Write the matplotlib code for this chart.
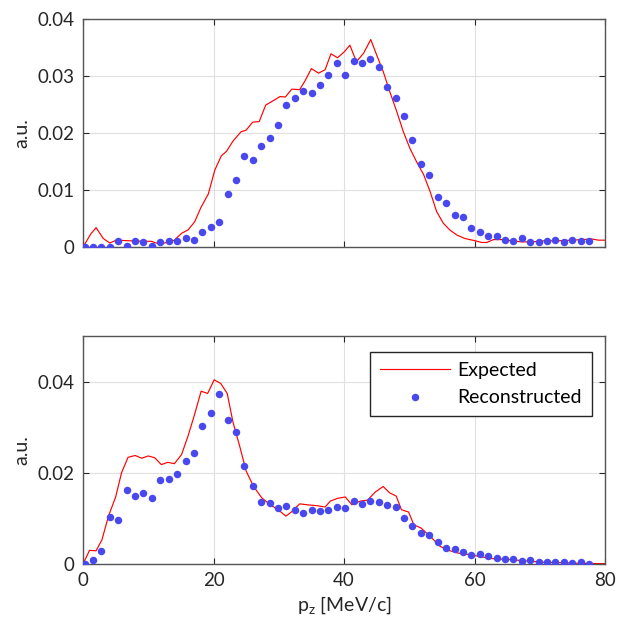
import numpy as np
import matplotlib
matplotlib.use("Agg")
import matplotlib.pyplot as plt

# ---------------------------------------------------------
# Data
# ---------------------------------------------------------

# reconstructed points sit on a regular grid of 61 bins
rec_x = np.linspace(0.25, 77.55, 61)

rec_top = [0.0000, 0.0000, 0.0000, 0.0000, 0.0011, 0.0001, 0.0011, 0.0009, 0.0002, 0.0009,
           0.0011, 0.0011, 0.0016, 0.0013, 0.0026, 0.0035, 0.0044, 0.0093, 0.0118, 0.0160,
           0.0152, 0.0178, 0.0192, 0.0214, 0.0249, 0.0262, 0.0274, 0.0271, 0.0285, 0.0301,
           0.0322, 0.0301, 0.0327, 0.0322, 0.0330, 0.0316, 0.0280, 0.0261, 0.0229, 0.0187,
           0.0146, 0.0126, 0.0087, 0.0077, 0.0057, 0.0052, 0.0033, 0.0026, 0.0020, 0.0020,
           0.0013, 0.0011, 0.0015, 0.0009, 0.0009, 0.0011, 0.0012, 0.0009, 0.0012, 0.0011,
           0.0011]

rec_bot = [0.0000, 0.0009, 0.0029, 0.0103, 0.0097, 0.0162, 0.0149, 0.0156, 0.0144, 0.0185,
           0.0186, 0.0198, 0.0226, 0.0243, 0.0302, 0.0331, 0.0372, 0.0316, 0.0289, 0.0216,
           0.0171, 0.0137, 0.0134, 0.0122, 0.0127, 0.0119, 0.0111, 0.0119, 0.0117, 0.0119,
           0.0125, 0.0122, 0.0138, 0.0132, 0.0138, 0.0135, 0.0130, 0.0126, 0.0100, 0.0083,
           0.0068, 0.0064, 0.0049, 0.0036, 0.0033, 0.0026, 0.0019, 0.0023, 0.0018, 0.0014,
           0.0010, 0.0011, 0.0007, 0.0008, 0.0005, 0.0005, 0.0004, 0.0004, 0.0003, 0.0004,
           0.0001]

exp_x_top = [0, 1.2, 2.0, 3.1, 4.1, 5.1, 7.0, 9.5, 10.5, 11.2, 12.5, 14.0, 15.1, 16.1, 17.1,
             18.1, 19.2, 20.2, 21.2, 22.0, 23.0, 24.2, 25.0, 26.0, 27.0, 28.0, 29.2, 30.2,
             31.0, 32.0, 33.2, 34.0, 35.0, 36.1, 37.1, 38.0, 39.0, 40.0, 40.9, 41.9, 43.0,
             44.1, 45.0, 46.0, 47.0, 48.1, 49.1, 50.1, 51.1, 52.2, 53.2, 54.2, 55.2, 56.2,
             57.3, 58.5, 60.1, 61.1, 61.9, 62.9, 64.2, 65.7, 67.2, 68.7, 70.8, 72.9, 74.9,
             76.4, 78.0, 79.0, 80.0]
exp_top = [0, .0023, .0034, .0015, .0007, .0012, .0011, .0010, .0010, .0007, .0007, .0012,
           .0024, .0030, .0044, .0070, .0093, .0135, .0160, .0168, .0186, .0202, .0205,
           .0219, .0220, .0249, .0257, .0264, .0263, .0277, .0276, .0291, .0313, .0305,
           .0311, .0339, .0332, .0342, .0354, .0325, .0340, .0364, .0337, .0308, .0273,
           .0237, .0202, .0173, .0150, .0127, .0097, .0062, .0042, .0030, .0021, .0015,
           .0011, .0008, .0008, .0013, .0013, .0011, .0009, .0009, .0011, .0011, .0012,
           .0013, .0014, .0012, .0012]

exp_x_bot = [0, 1.0, 2.0, 2.9, 3.9, 5.0, 5.9, 6.9, 8.0, 9.0, 10.0, 11.0, 12.0, 13.0, 14.0,
             15.1, 16.1, 17.1, 18.1, 19.1, 20.1, 21.1, 22.1, 23.0, 24.0, 25.0, 26.1, 27.4,
             28.7, 29.9, 31.1, 32.1, 33.2, 34.3, 35.8, 37.1, 37.9, 39.0, 40.2, 41.2, 42.5,
             43.6, 44.8, 46.0, 47.0, 48.0, 48.8, 49.9, 50.7, 51.8, 53.2, 54.7, 56.0, 57.5,
             59.0, 60.6, 62.6, 65.2, 67.7, 70.3, 72.9, 75.4, 77.9, 80.0]
exp_bot = [0, .0030, .0029, .0053, .0105, .0147, .0200, .0234, .0238, .0232, .0237, .0233,
           .0218, .0223, .0220, .0240, .0281, .0328, .0379, .0374, .0404, .0396, .0374,
           .0310, .0259, .0204, .0171, .0145, .0130, .0119, .0105, .0116, .0132, .0130,
           .0128, .0125, .0138, .0144, .0147, .0130, .0138, .0140, .0158, .0170, .0156,
           .0149, .0119, .0114, .0086, .0079, .0061, .0039, .0030, .0024, .0021, .0017,
           .0012, .0010, .0007, .0004, .0003, .0002, .0001, .0001]

x_ticks = [0, 20, 40, 60, 80]
y_ticks_top = [0, 0.01, 0.02, 0.03, 0.04]
y_labels_top = ["0", "0.01", "0.02", "0.03", "0.04"]
y_ticks_bot = [0, 0.02, 0.04]
y_labels_bot = ["0", "0.02", "0.04"]

# ---------------------------------------------------------
# Plot
# ---------------------------------------------------------
plt.rcParams['font.family'] = ['Lato', 'DejaVu Sans']
plt.rcParams['font.size'] = 13

RED = '#ff0000'
BLUE = '#4848ee'
TXT = '#262626'

fig = plt.figure(figsize=(6.28, 6.29), dpi=100)
ax_top = fig.add_axes([0.1322, 0.6073, 0.8312, 0.3625])
ax_bot = fig.add_axes([0.1322, 0.1033, 0.8312, 0.3625])


def style_axes(ax, yticks, ylabels, ymax, show_x):
    ax.set_xlim(0, 80)
    ax.set_ylim(0, ymax)
    ax.set_xticks(x_ticks)
    ax.set_yticks(yticks)
    ax.set_yticklabels(ylabels)
    if not show_x:
        ax.set_xticklabels([])
    ax.grid(True, color='#e0e0e0', linewidth=0.8)
    ax.set_axisbelow(True)
    ax.tick_params(direction='in', top=True, right=True, length=4,
                   color=TXT, labelcolor=TXT, labelsize=13.5, pad=6)
    for sp in ax.spines.values():
        sp.set_color('#555555')
        sp.set_linewidth(1.0)
    ax.set_ylabel('a.u.', fontsize=14, color=TXT, labelpad=5)


ax_top.plot(exp_x_top, exp_top, color=RED, lw=0.85, zorder=2)
ax_top.plot(rec_x, rec_top, 'o', color=BLUE, ms=5.4, mec='none', zorder=3)
style_axes(ax_top, y_ticks_top, y_labels_top, 0.04, False)

ax_bot.plot(exp_x_bot, exp_bot, color=RED, lw=0.85, zorder=2, label='Expected')
ax_bot.plot(rec_x, rec_bot, 'o', color=BLUE, ms=5.4, mec='none', zorder=3, label='Reconstructed')
style_axes(ax_bot, y_ticks_bot, y_labels_bot, 0.05, True)
ax_bot.set_xlabel(r'$\mathregular{p_z}$ [MeV/c]', fontsize=14, color=TXT, labelpad=4)

leg = ax_bot.legend(loc='upper right', bbox_to_anchor=(0.975, 0.93), fontsize=14,
                    frameon=True, fancybox=False, framealpha=1, edgecolor=TXT,
                    handlelength=3.6, borderpad=0.5, labelspacing=0.55, handletextpad=0.4,
                    borderaxespad=0.0)
leg.get_frame().set_linewidth(1.0)

fig.savefig('out.png', dpi=100)
